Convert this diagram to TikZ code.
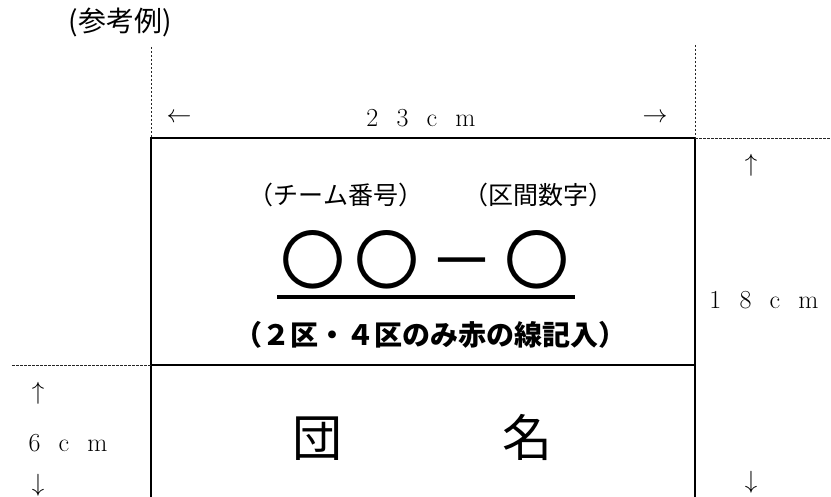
\documentclass[tikz,border=0pt]{standalone}
\usepackage{fontspec}
\newfontfamily\jp{Noto Sans CJK JP}
\tikzset{
  frame/.style={line width=2.5pt},
  guide/.style={line width=0.9pt, dash pattern=on 2.5pt off 1.5pt, black!85},
  dim/.style={font=\fontsize{26}{26}\selectfont, inner sep=0pt},
  arr/.style={font=\fontsize{25}{25}\selectfont, inner sep=0pt},
  note/.style={font=\jp\fontsize{25}{25}\selectfont, inner sep=0pt},
}
\begin{document}
\begin{tikzpicture}[x=1pt,y=-1pt]
  \useasboundingbox (0,0) rectangle (831,497);
  \clip (0,0) rectangle (831,497);
  \coordinate (A) at (151,138);
  \coordinate (B) at (695,138);
  \coordinate (C) at (151,365);
  \coordinate (D) at (695,365);
  \coordinate (E) at (151,510);
  \coordinate (F) at (695,510);
  \coordinate (G) at (151,47);
  \coordinate (H) at (695,45);
  \coordinate (I) at (831,138);
  \coordinate (J) at (12,365);
  \coordinate (K) at (277,297);
  \coordinate (L) at (575,297);
  %Frame
  \draw[frame] (E)--(A)--(B)--(F);
  \draw[frame] (C)--(D);
  %Guide lines
  \draw[guide] (G)--(A);
  \draw[guide] (H)--(B);
  \draw[guide] (B)--(I);
  \draw[guide] (J)--(C);
  %Title
  \node[note, font=\jp\fontsize{28}{28}\selectfont] (title) at (120,22) {(参考例)};
  %Width 23 cm
  \node[arr] (wl) at (179,118) {$\leftarrow$};
  \node[arr] (wr) at (655,118) {$\rightarrow$};
  \node[dim] (w) at (421,118) {2\hspace{0.7em}3\hspace{0.7em}c\hspace{0.7em}m};
  %Height 18 cm
  \node[arr] (hu) at (751,165) {$\uparrow$};
  \node[dim] (h) at (764,300) {1\hspace{0.7em}8\hspace{0.7em}c\hspace{0.7em}m};
  \node[arr] (hd) at (751,482) {$\downarrow$};
  %Height 6 cm
  \node[arr] (su) at (38,393) {$\uparrow$};
  \node[dim] (s) at (68,443) {6\hspace{0.7em}c\hspace{0.7em}m};
  \node[arr] (sd) at (38,485) {$\downarrow$};
  %Number
  \node[note] (team) at (336,195) {（チーム番号）};
  \node[note] (sect) at (538,195) {（区間数字）};
  \node[font=\jp\fontsize{65}{65}\selectfont, inner sep=0pt] (num) at (425,260)
    {〇\hspace{10pt}〇\hspace{10pt}－\hspace{10pt}〇};
  \draw[line width=3.5pt] (K)--(L);
  \node[font=\jp\bfseries\fontsize{28}{28}\selectfont, inner sep=0pt] (red) at (430,335) {（２区・４区のみ赤の線記入）};
  %Team name
  \node[font=\jp\fontsize{50}{50}\selectfont, inner sep=0pt] (name) at (422,437) {団\hspace{3.2em}名};
\end{tikzpicture}
\end{document}
